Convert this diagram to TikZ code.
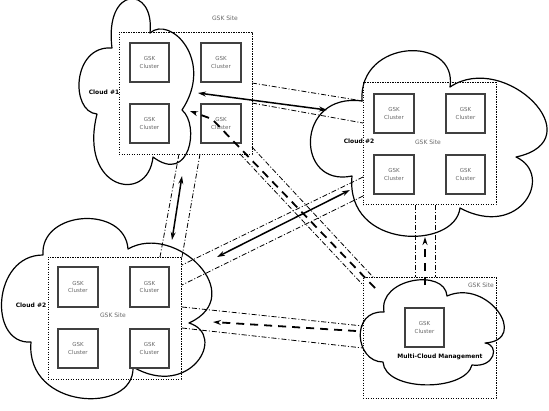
\documentclass[tikz,border=0pt]{standalone}
\usepackage{fontspec}
\setmainfont{DejaVu Sans}
\usetikzlibrary{arrows.meta}

\begin{document}
\begin{tikzpicture}[x=1pt, y=-1pt, node distance=71.5pt,
    cloudline/.style={line width=1.2pt, line join=round},
    sitebox/.style={draw, line width=1pt, dash pattern=on 1.2pt off 1.3pt, minimum width=133pt, minimum height=122pt, inner sep=0pt},
    cluster/.style={draw=black!75, line width=1.8pt, fill=white, minimum size=39.5pt, inner sep=0pt, align=center, text=black!60, font=\fontsize{5.5}{7.5}\selectfont},
    sitelabel/.style={text=black!60, font=\fontsize{6}{7}\selectfont, inner sep=0pt},
    cloudlabel/.style={font=\bfseries\fontsize{6}{7}\selectfont, inner sep=0pt},
    tunnel/.style={line width=0.8pt, dash pattern=on 5pt off 2pt on 1pt off 2pt},
    link/.style={line width=1.5pt, {Stealth[length=8pt,width=5pt]}-{Stealth[length=8pt,width=5pt]}},
    mgmt/.style={line width=1.8pt, dash pattern=on 8pt off 6pt, -{Stealth[length=8pt,width=5pt]}}]
    \useasboundingbox (0,0) rectangle (549,410);

    % clouds
    \draw[cloudline] (112,48) .. controls (104,-15) and (155,-15) .. (150,33)
        .. controls (170,15) and (215,60) .. (182,110)
        .. controls (200,125) and (190,185) .. (153,157)
        .. controls (148,205) and (78,190) .. (97,114)
        .. controls (70,112) and (72,45) .. (112,48) -- cycle;
    \draw[cloudline] (362,101) .. controls (358,38) and (458,35) .. (450,87)
        .. controls (505,50) and (595,140) .. (516,157)
        .. controls (555,175) and (520,240) .. (460,208)
        .. controls (455,250) and (345,250) .. (352,176)
        .. controls (295,188) and (295,92) .. (362,101) -- cycle;
    \draw[cloudline] (43,255) .. controls (40,210) and (125,205) .. (128,249)
        .. controls (175,222) and (250,295) .. (189,323)
        .. controls (228,335) and (190,400) .. (133,367)
        .. controls (135,415) and (25,410) .. (31,342)
        .. controls (-12,345) and (-8,255) .. (43,255) -- cycle;
    \draw[cloudline] (384,312) .. controls (378,278) and (445,268) .. (447,296)
        .. controls (488,278) and (530,340) .. (485,343)
        .. controls (500,345) and (495,368) .. (472,365)
        .. controls (465,392) and (385,392) .. (383,362)
        .. controls (355,362) and (350,310) .. (384,312) -- cycle;

    % sites
    \node (s1) [sitebox] at (185.5,93) {};
    \node (s2) [sitebox] at (429.5,143.5) {};
    \node (s3) [sitebox] at (114.5,318) {};
    \node (s4) [sitebox, minimum height=121pt] at (429.5,337.5) {};

    \node (c1a) [cluster] at (149.5,62.5) {GSK\\Cluster};
    \node (c1b) [cluster, right of=c1a] {GSK\\Cluster};
    \node (c1c) [cluster, below of=c1a, node distance=61pt] {GSK\\Cluster};
    \node (c1d) [cluster, right of=c1c] {GSK\\Cluster};

    \node (c2a) [cluster] at (394,113.5) {GSK\\Cluster};
    \node (c2b) [cluster, right of=c2a] {GSK\\Cluster};
    \node (c2c) [cluster, below of=c2a, node distance=61pt] {GSK\\Cluster};
    \node (c2d) [cluster, right of=c2c] {GSK\\Cluster};

    \node (c3a) [cluster] at (78,287) {GSK\\Cluster};
    \node (c3b) [cluster, right of=c3a] {GSK\\Cluster};
    \node (c3c) [cluster, below of=c3a, node distance=61.5pt] {GSK\\Cluster};
    \node (c3d) [cluster, right of=c3c] {GSK\\Cluster};

    \node (c4) [cluster] at (424.5,327.5) {GSK\\Cluster};

    \node (s1lbl) [sitelabel] at (225,18) {GSK Site};
    \node (s2lbl) [sitelabel] at (428,142) {GSK Site};
    \node (s3lbl) [sitelabel] at (113,315) {GSK Site};
    \node (s4lbl) [sitelabel] at (481,285) {GSK Site};

    \node (cl1) [cloudlabel] at (104,92) {Cloud \#1};
    \node (cl2) [cloudlabel] at (359,141) {Cloud \#2};
    \node (cl3) [cloudlabel] at (31,305) {Cloud \#2};
    \node (cl4) [cloudlabel] at (440,357) {Multi-Cloud Management};

    % tunnel ends
    \coordinate (p12a) at (252,83);  \coordinate (q12a) at (363,101);
    \coordinate (p12b) at (252,103); \coordinate (q12b) at (363,123);
    \coordinate (p13a) at (179,154); \coordinate (q13a) at (160,257);
    \coordinate (p13b) at (200,154); \coordinate (q13b) at (182,257);
    \coordinate (p14a) at (240,154); \coordinate (q14a) at (363,285);
    \coordinate (p14b) at (252,147); \coordinate (q14b) at (373,277);
    \coordinate (p23a) at (363,177); \coordinate (q23a) at (182,265);
    \coordinate (p23b) at (363,196); \coordinate (q23b) at (182,285);
    \coordinate (p24a) at (415,205); \coordinate (q24a) at (415,277);
    \coordinate (p24b) at (435,205); \coordinate (q24b) at (435,277);
    \coordinate (p34a) at (182,307); \coordinate (q34a) at (363,326);
    \coordinate (p34b) at (182,328); \coordinate (q34b) at (363,348);

    \draw[tunnel] (p12a) -- (q12a);
    \draw[tunnel] (p12b) -- (q12b);
    \draw[tunnel] (p13a) -- (q13a);
    \draw[tunnel] (p13b) -- (q13b);
    \draw[tunnel] (p14a) -- (q14a);
    \draw[tunnel] (p14b) -- (q14b);
    \draw[tunnel] (p23a) -- (q23a);
    \draw[tunnel] (p23b) -- (q23b);
    \draw[tunnel] (p24a) -- (q24a);
    \draw[tunnel] (p24b) -- (q24b);
    \draw[tunnel] (p34a) -- (q34a);
    \draw[tunnel] (p34b) -- (q34b);

    % links between clouds
    \coordinate (k1e) at (198,93);  \coordinate (k2w) at (327,110);
    \coordinate (k1s) at (182,176); \coordinate (k3n) at (172,240);
    \coordinate (k3e) at (217,257); \coordinate (k2s) at (350,190);

    \draw[link] (k1e) -- (k2w);
    \draw[link] (k1s) -- (k3n);
    \draw[link] (k3e) -- (k2s);

    % management
    \coordinate (m4nw) at (375,288); \coordinate (m1bend) at (212,119); \coordinate (m1e) at (190,111);
    \coordinate (m4n) at (425,285);  \coordinate (m2s) at (425,237);
    \coordinate (m4w) at (356,331);  \coordinate (m3e) at (213,322);

    \draw[mgmt] (m4nw) -- (m1bend) -- (m1e);
    \draw[mgmt] (m4n) -- (m2s);
    \draw[mgmt] (m4w) -- (m3e);
\end{tikzpicture}
\end{document}
